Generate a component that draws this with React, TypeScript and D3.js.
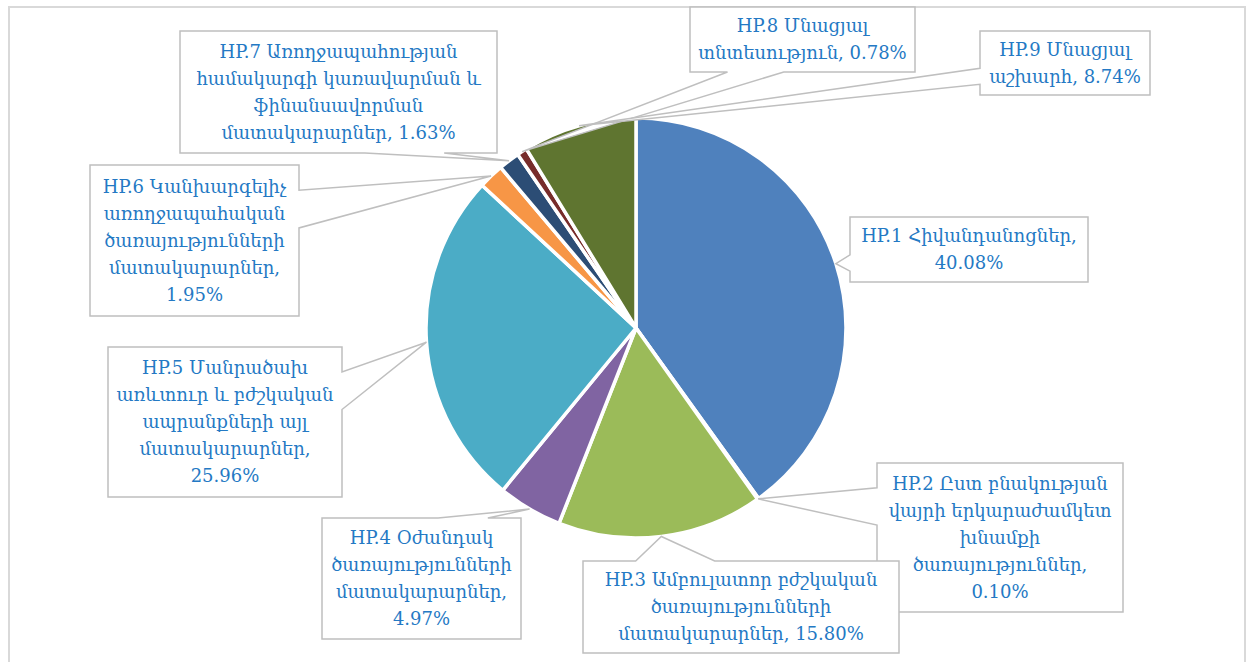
import React from "react";
import * as d3 from "d3";

const codes = ["HP.1", "HP.2", "HP.3", "HP.4", "HP.5", "HP.6", "HP.7", "HP.8", "HP.9"];
const values = [40.08, 0.10, 15.80, 4.97, 25.96, 1.95, 1.63, 0.78, 8.74];
const colors = ["#4F81BD", "#C0504D", "#9BBB59", "#8064A2", "#4BACC6", "#F79646", "#2C4D75", "#772C2A", "#5F7530"];
// label text, line by line, as in the picture
const labelLines = [
  ["HP.1 Հիվանդանոցներ,", "40.08%"],
  ["HP.2 Ըստ բնակության", "վայրի երկարաժամկետ", "խնամքի", "ծառայություններ,", "0.10%"],
  ["HP.3 Ամբուլատոր բժշկական", "ծառայությունների", "մատակարարներ, 15.80%"],
  ["HP.4 Օժանդակ", "ծառայությունների", "մատակարարներ,", "4.97%"],
  ["HP.5 Մանրածախ", "առևտուր և բժշկական", "ապրանքների այլ", "մատակարարներ,", "25.96%"],
  ["HP.6 Կանխարգելիչ", "առողջապահական", "ծառայությունների", "մատակարարներ,", "1.95%"],
  ["HP.7 Առողջապահության", "համակարգի կառավարման և", "ֆինանսավորման", "մատակարարներ, 1.63%"],
  ["HP.8 Մնացյալ", "տնտեսություն, 0.78%"],
  ["HP.9 Մնացյալ", "աշխարհ, 8.74%"],
];
// label boxes [left, top, right, bottom]
const boxes = [
  [850, 217, 1088, 282],
  [877, 463, 1123, 612],
  [583, 561, 899, 653],
  [322, 518, 521, 639],
  [108, 347, 342, 497],
  [90, 165, 299, 316],
  [180, 31, 497, 153],
  [690, 7, 915, 72],
  [980, 31, 1150, 95],
];

const W = 1247, H = 662;
const cx = 636, cy = 328, R = 210;
const lineH = 27;

function calloutPath(box: number[], tx: number, ty: number) {
  const [l, t, r, b] = box;
  const w = r - l, h = b - t;
  const hc = l + w / 2, vc = t + h / 2;
  const dx = tx - hc, dy = ty - vc;
  const dq = (dx * h) / w;
  const dz = Math.abs(dy) - Math.abs(dq);
  const x1 = l + (w * (dx > 0 ? 7 : 2)) / 12, x2 = l + (w * (dx > 0 ? 10 : 5)) / 12;
  const y1 = t + (h * (dy > 0 ? 7 : 2)) / 12, y2 = t + (h * (dy > 0 ? 10 : 5)) / 12;
  const side = dz > 0 ? (dy < 0 ? "top" : "bottom") : dx < 0 ? "left" : "right";
  const p = d3.path();
  p.moveTo(l, t);
  if (side === "top") { p.lineTo(x1, t); p.lineTo(tx, ty); p.lineTo(x2, t); }
  p.lineTo(r, t);
  if (side === "right") { p.lineTo(r, y1); p.lineTo(tx, ty); p.lineTo(r, y2); }
  p.lineTo(r, b);
  if (side === "bottom") { p.lineTo(x2, b); p.lineTo(tx, ty); p.lineTo(x1, b); }
  p.lineTo(l, b);
  if (side === "left") { p.lineTo(l, y2); p.lineTo(tx, ty); p.lineTo(l, y1); }
  p.closePath();
  return p.toString();
}

export default function App() {
  const pie = d3.pie<number>().sort(null).value((d) => d)(values);
  const arc = d3.arc<d3.PieArcDatum<number>>().innerRadius(0).outerRadius(R);

  return (
    <svg width={W} height={H} style={{ position: "fixed", left: 0, top: 0, background: "#fff" }}
      fontFamily="'DejaVu Serif', serif">
      <rect x={9} y={7} width={1236} height={H + 20} fill="#fff" stroke="#D9D9D9" strokeWidth={2} />
      <g transform={`translate(${cx},${cy})`}>
        {pie.map((d, i) => (
          <path key={codes[i]} d={arc(d) || ""} fill={colors[i]} stroke="#fff" strokeWidth={3.5} strokeLinejoin="round" />
        ))}
      </g>
      {pie.map((d, i) => {
        const a = (d.startAngle + d.endAngle) / 2;
        const tx = cx + R * Math.sin(a), ty = cy - R * Math.cos(a);
        const box = boxes[i];
        const mx = (box[0] + box[2]) / 2, my = (box[1] + box[3]) / 2;
        const lines = labelLines[i];
        const y0 = my - ((lines.length - 1) * lineH) / 2;
        return (
          <g key={"lab" + i}>
            <path d={calloutPath(box, tx, ty)} fill="#fff" stroke="#BFBFBF" strokeWidth={1.5} />
            <text x={mx} textAnchor="middle" fontSize={18} fill="#2479C4">
              {lines.map((s, j) => (
                <tspan key={j} x={mx} y={y0 + j * lineH} dy="0.35em">{s}</tspan>
              ))}
            </text>
          </g>
        );
      })}
    </svg>
  );
}
